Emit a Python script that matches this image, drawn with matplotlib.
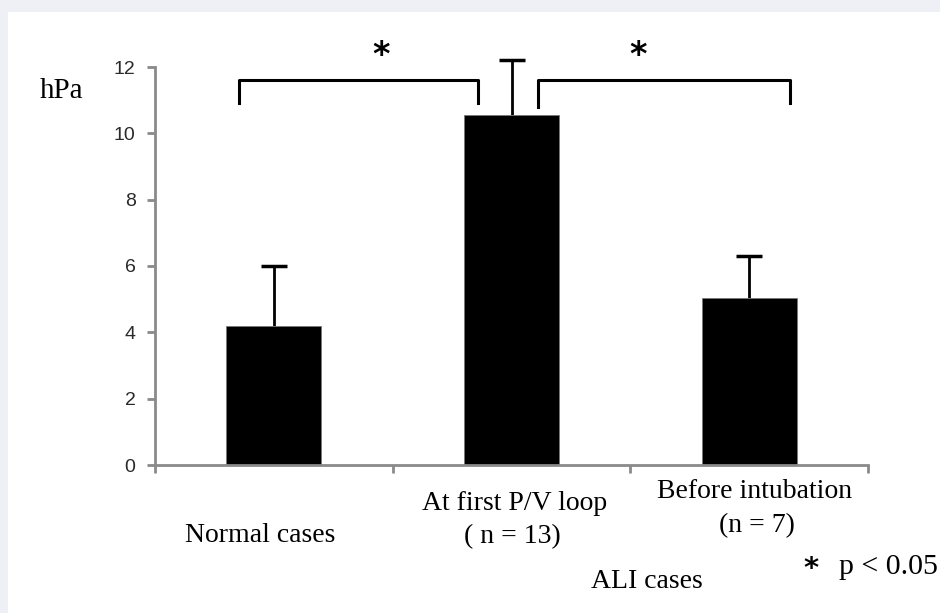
import numpy as np
import matplotlib.pyplot as plt
from matplotlib.patches import Rectangle

groups = ["Normal cases", "At first P/V loop\n( n = 13)", "Before intubation\n(n = 7)"]
means = [4.2, 10.55, 5.05]
sd_up = [1.8, 1.65, 1.25]
yticks = [0, 2, 4, 6, 8, 10, 12]

W, H = 940, 613
fig = plt.figure(figsize=(W / 100, H / 100), dpi=100, facecolor="#eff0f5")
fig.patches.append(Rectangle((8 / W, 0), 1, 1 - 12 / H, transform=fig.transFigure,
                             facecolor="white", edgecolor="none", zorder=-5))

def px(x, y):
    return x / W, 1 - y / H

ax = fig.add_axes([155 / W, 1 - 465 / H, (868 - 155) / W, (465 - 67) / H])
ax.set_facecolor("none")
x = np.arange(len(groups))
tops = np.array(means) + np.array(sd_up)
ax.vlines(x, means, tops, color="black", lw=2, zorder=1, clip_on=False)
ax.plot(x, tops, ls="none", marker="_", markersize=19, mew=2.5, color="black",
        clip_on=False, zorder=1)
ax.bar(x, means, width=0.4, color="black", edgecolor="#777777", linewidth=0.6, zorder=2)

ax.set_xlim(-0.5, 2.5)
ax.set_ylim(0, 12)
ax.set_yticks(yticks)
ax.set_xticks([-0.5, 0.5, 1.5, 2.5])
ax.set_xticklabels([])
for s in ["top", "right"]:
    ax.spines[s].set_visible(False)
for s in ["left", "bottom"]:
    ax.spines[s].set_color("#8a8a8a")
    ax.spines[s].set_linewidth(2)
ax.tick_params(axis="both", color="#8a8a8a", width=2, length=6, direction="out")
ax.tick_params(axis="y", pad=8)
for lab in ax.get_yticklabels():
    lab.set_family(["Liberation Sans Narrow", "Liberation Sans"])
    lab.set_fontsize(14)
    lab.set_color("#2a2a2a")

# significance brackets
def bracket(x0, x1, ytop, yl, yr):
    ax.plot([x0, x0, x1, x1], [yl, ytop, ytop, yr], color="black", lw=2.2,
            clip_on=False, solid_joinstyle="round")

bracket(-0.147, 0.859, 11.6, 10.9, 10.9)
bracket(1.111, 2.171, 11.6, 10.78, 10.9)
ax.text(0.451, 12.35, "*", ha="center", va="center", fontsize=24, fontweight="bold",
        family="DejaVu Sans", clip_on=False)
ax.text(1.532, 12.35, "*", ha="center", va="center", fontsize=24, fontweight="bold",
        family="DejaVu Sans", clip_on=False)

serif = "Liberation Serif"
fs = 20
fig.text(*px(62, 91), "hPa", ha="center", va="center", family=serif, fontsize=21)
fig.text(*px(260, 536), "Normal cases", ha="center", va="center", family=serif, fontsize=fs)
fig.text(*px(515, 503), "At first P/V loop", ha="center", va="center", family=serif, fontsize=fs)
fig.text(*px(512, 537), "( n = 13)", ha="center", va="center", family=serif, fontsize=fs)
fig.text(*px(755, 492), "Before intubation", ha="center", va="center", family=serif, fontsize=fs)
fig.text(*px(757, 526), "(n = 7)", ha="center", va="center", family=serif, fontsize=fs)
fig.text(*px(647, 582), "ALI cases", ha="center", va="center", family=serif, fontsize=fs)
fig.text(*px(811, 569), "*", ha="center", va="center", family="DejaVu Sans",
         fontsize=21, fontweight="bold")
fig.text(*px(839, 567), "p < 0.05", ha="left", va="center", family=serif, fontsize=21.5)

fig.savefig("out.png", dpi=100, facecolor=fig.get_facecolor())
